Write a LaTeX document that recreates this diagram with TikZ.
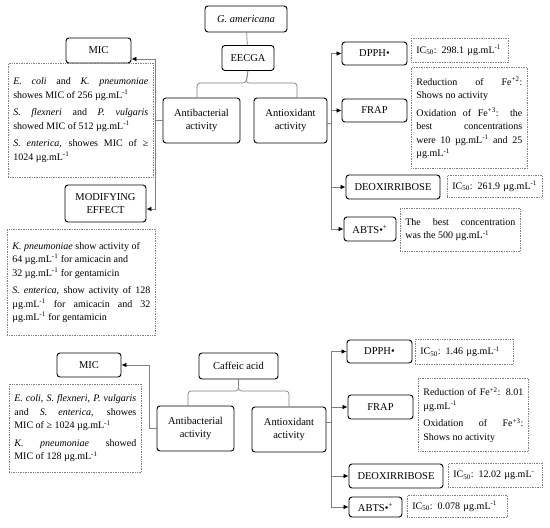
\documentclass[tikz,border=0pt]{standalone}
\usepackage{fontspec}
\setmainfont{Liberation Serif}
\usepackage{tikz}
\usetikzlibrary{arrows.meta}
\hyphenpenalty=10000
\exhyphenpenalty=10000
\newcommand{\ugml}{µg.mL\textsuperscript{-1}}
\newcommand{\paragap}{\par\vspace{4pt}}
\tikzset{
  box/.style={draw, rounded corners=3pt, line width=0.9pt, align=center, inner sep=1pt, font=\fontsize{10.5}{13}\selectfont},
  note/.style={draw=gray, densely dotted, line width=0.7pt, anchor=north west, align=justify, inner xsep=5pt, inner ysep=2pt, font=\fontsize{10}{13.5}\selectfont},
  link/.style={draw=gray, line width=0.7pt},
  arr/.style={link, -{Latex[color=black, length=5pt, width=4.5pt]}},
}

\begin{document}
\begin{tikzpicture}[x=1pt, y=-1pt]
        \useasboundingbox (0,0) rectangle (550,528);
        % G. americana
        \node (gam) [box, minimum width=82pt, minimum height=26pt] at (246,19) {\textit{G. americana}};
        \node (eecga) [box, minimum width=52pt, minimum height=25pt] at (248,58) {EECGA};
        \node (abA) [box, minimum width=77pt, minimum height=45pt] at (201.5,120.5) {Antibacterial\\activity};
        \node (aoA) [box, minimum width=73pt, minimum height=45pt] at (290.5,120.5) {Antioxidant\\activity};
        \node (micA) [box, minimum width=65pt, minimum height=25pt] at (98.5,50.5) {MIC};
        \node (modA) [box, minimum width=81pt, minimum height=37pt] at (105.5,203.5) {MODIFYING\\EFFECT};
        \node (dpA) [box, minimum width=65pt, minimum height=23pt] at (374.5,53.5) {DPPH\textbullet};
        \node (frA) [box, minimum width=65pt, minimum height=23pt] at (374.5,110.5) {FRAP};
        \node (deA) [box, minimum width=94pt, minimum height=24pt] at (393,187) {DEOXIRRIBOSE};
        \node (abtA) [box, minimum width=52pt, minimum height=24pt] at (370,229) {ABTS\textbullet\textsuperscript{+}};
        % notes
        \node (tMicA) [note, text width=135pt, minimum height=114pt] at (8,63) {\textit{E. coli} and \textit{K. pneumoniae}\linebreak showes MIC of 256 \ugml\paragap \textit{S. flexneri} and \textit{P. vulgaris}\linebreak showed MIC of 512 \ugml\paragap \textit{S. enterica,} showes MIC of ≥\linebreak 1024 \ugml};
        \node (tModA) [note, text width=138pt, minimum height=106pt] at (7,229) {\textit{K. pneumoniae} show activity of\\ 64 \ugml{} for amicacin and\\ 32 \ugml{} for gentamicin\paragap \textit{S. enterica,} show activity of 128\linebreak \ugml{} for amicacin and 32\linebreak \ugml{} for gentamicin};
        \node (tDpA) [note, align=left, text width=87pt, minimum height=24pt] at (411,38) {IC\textsubscript{50}: 298.1 \ugml};
        \node (tFrA) [note, text width=106pt, minimum height=101pt] at (411,67) {Reduction of Fe\textsuperscript{+2}:\linebreak Shows no activity\paragap Oxidation of Fe\textsuperscript{+3}: the\linebreak best concentrations\linebreak were 10 \ugml{} and 25\linebreak \ugml};
        \node (tDeA) [note, align=left, text width=85pt, minimum height=22pt] at (447,175) {IC\textsubscript{50}: 261.9 \ugml};
        \node (tAbtA) [note, text width=110pt, minimum height=43pt] at (400,208) {The best concentration\linebreak was the 500 \ugml};

        % Caffeic acid
        \node (caf) [box, minimum width=79pt, minimum height=26pt] at (238.5,366) {Caffeic acid};
        \node (abB) [box, minimum width=77pt, minimum height=45pt] at (195.5,428.5) {Antibacterial\\activity};
        \node (aoB) [box, minimum width=74pt, minimum height=45pt] at (289,429.5) {Antioxidant\\activity};
        \node (micB) [box, minimum width=64pt, minimum height=24pt] at (89,365) {MIC};
        \node (dpB) [box, minimum width=65pt, minimum height=23pt] at (379.5,351.5) {DPPH\textbullet};
        \node (frB) [box, minimum width=65pt, minimum height=24pt] at (380.5,407) {FRAP};
        \node (deB) [box, minimum width=94pt, minimum height=24pt] at (396,476) {DEOXIRRIBOSE};
        \node (abtB) [box, minimum width=53pt, minimum height=20pt] at (375.5,507) {ABTS\textbullet\textsuperscript{+}};
        % notes
        \node (tMicB) [note, text width=122pt, minimum height=88pt] at (9,384) {\textit{E. coli, S. flexneri, P. vulgaris}\linebreak and \textit{S. enterica,} showes\linebreak MIC of ≥ 1024 \ugml\paragap \textit{K. pneumoniae} showed\linebreak MIC of 128 \ugml};
        \node (tDpB) [note, align=left, text width=88pt, minimum height=25pt] at (415,339) {IC\textsubscript{50}: 1.46 \ugml};
        \node (tFrB) [note, text width=100pt, minimum height=73pt] at (418,378) {Reduction of Fe\textsuperscript{+2}: 8.01\linebreak \ugml\paragap Oxidation of Fe\textsuperscript{+3}:\linebreak Shows no activity};
        \node (tDeB) [note, align=left, text width=84pt, minimum height=24pt] at (448,463) {IC\textsubscript{50}: 12.02 µg.mL\textsuperscript{-}};
        \node (tAbtB) [note, align=left, text width=90pt, minimum height=22pt] at (407,495) {IC\textsubscript{50}: 0.078 \ugml};

        % connectors, top
        \coordinate (bA) at (246,83);
        \coordinate (jA) at (155,120.5);
        \coordinate (kA) at (331,123);
        \draw[link] (gam) -- (eecga);
        \draw[link, rounded corners=3pt] (eecga.south) -- (bA) -| ([xshift=-4.5pt]abA.north);
        \draw[link, rounded corners=3pt] (eecga.south) -- (bA) -| ([xshift=6.5pt]aoA.north);
        \draw[link] (abA.west) -- (jA);
        \draw[arr] (jA) |- ([yshift=-8.5pt]micA.east);
        \draw[arr] (jA) |- ([yshift=-5.5pt]modA.east);
        \draw[link] ([yshift=-2.5pt]aoA.east) -- (kA);
        \foreach \n in {dpA,frA,deA,abtA}
                \draw[arr] (kA) |- (\n.west);

        % connectors, bottom
        \coordinate (bB) at (238.5,391);
        \coordinate (jB) at (149,428.5);
        \coordinate (kB) at (331,422);
        \draw[link, rounded corners=3pt] (caf.south) -- (bB) -| ([xshift=-7.5pt]abB.north);
        \draw[link, rounded corners=3pt] (caf.south) -- (bB) -| (aoB.north);
        \draw[link] (abB.west) -- (jB);
        \draw[arr] (jB) |- (micB.east);
        \draw[link] ([yshift=7.5pt]aoB.east) -- (kB);
        \foreach \n in {dpB,frB,deB,abtB}
                \draw[arr] (kB) |- (\n.west);
\end{tikzpicture}
\end{document}
